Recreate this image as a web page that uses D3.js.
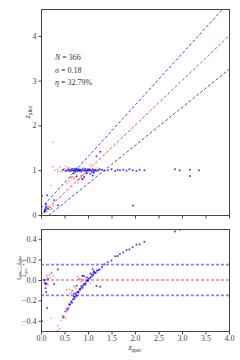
<!DOCTYPE html>
<html>
<head>
<meta charset="utf-8">
<script src="https://cdn.jsdelivr.net/npm/d3@7"></script>
<style>
  html, body { margin: 0; padding: 0; background: #fff; }
  svg { display: block; font-family: "Liberation Serif", "DejaVu Serif", serif; }
</style>
</head>
<body>
<div id="chart"></div>
<script>
// blue points: spectroscopic vs photometric redshift
const blueSpec = [0.02, 0.13, 0.08, 0.09, 0.10, 0.11, 0.08, 0.12, 0.07, 0.15, 0.36, 0.28,
  0.47, 0.52, 0.55, 0.58, 0.60, 0.62, 0.64, 0.66, 0.68, 0.70, 0.71, 0.72, 0.74, 0.75, 0.76, 0.78,
  0.79, 0.80, 0.82, 0.83, 0.85, 0.86, 0.88, 0.90, 0.92, 0.94, 0.95, 0.97, 0.99, 1.00, 1.02, 1.04,
  1.06, 1.08, 1.10, 1.12, 1.14, 1.16, 1.19, 1.22, 1.25, 1.30, 1.35, 1.42, 1.50, 1.58, 1.63, 1.68,
  1.75, 1.82, 1.88, 1.95, 2.03, 2.10, 2.20, 2.85, 2.95, 3.17, 3.36, 3.17, 1.96,
  1.18, 1.26, 1.05, 1.10, 0.92, 0.88, 0.98, 1.12, 0.70, 0.76];
const bluePhot = [0.43, 0.44, 0.08, 0.13, 0.19, 0.24, 0.11, 0.16, 0.07, 0.14, 0.22, 0.33,
  1.01, 0.99, 1.00, 1.02, 0.98, 1.01, 0.99, 1.03, 1.00, 0.98, 1.02, 1.00, 0.97, 1.01, 1.03, 0.99,
  1.00, 1.02, 0.98, 1.01, 1.00, 0.97, 1.02, 1.00, 0.99, 1.03, 1.01, 0.98, 1.00, 1.02, 0.99, 1.01,
  1.00, 0.97, 1.02, 1.00, 0.98, 1.01, 0.99, 1.00, 1.02, 1.01, 0.99, 1.00, 1.02, 0.98, 1.01, 1.00,
  1.01, 0.99, 1.02, 1.00, 0.98, 1.01, 1.00, 1.02, 1.00, 1.01, 1.00, 0.87, 0.21,
  1.31, 1.41, 0.92, 0.88, 0.85, 0.80, 0.93, 0.95, 0.93, 0.86];

// red points
const redSpec = [0.30, 0.35, 0.42, 0.48, 0.50, 0.55, 0.60, 0.65, 0.70, 0.75, 0.80,
  0.25, 0.40, 0.52, 0.58,
  0.65, 0.70, 0.75, 0.80, 0.85, 0.90, 0.95, 0.78, 0.60, 0.55, 0.68, 0.72,
  0.85, 0.90, 0.95, 1.00, 0.88, 0.82,
  0.26, 0.10, 0.13, 0.15, 0.18, 0.20, 0.12, 0.23, 0.26, 0.21, 0.36, 0.45, 0.22,
  1.10, 1.05, 1.20, 0.90, 1.15, 1.30, 1.13, 0.62, 0.66, 0.74];
const redPhot = [1.00, 1.02, 0.98, 1.00, 1.04, 0.97, 1.01, 0.99, 1.03, 0.96, 1.00,
  1.08, 1.07, 1.09, 1.06,
  0.85, 0.80, 0.90, 0.78, 0.88, 0.82, 0.92, 0.72, 0.75, 0.70, 0.86, 0.84,
  0.84, 0.90, 0.97, 1.00, 0.81, 0.80,
  1.63, 0.15, 0.10, 0.20, 0.12, 0.17, 0.07, 0.15, 0.21, 0.66, 0.97, 0.96, 0.13,
  0.95, 1.12, 1.05, 1.05, 1.00, 1.00, 0.94, 0.84, 0.83, 1.04];

const topTicks = [0, 1, 2, 3, 4];
const botTicks = [-0.4, -0.2, 0.0, 0.2, 0.4];
const xTicks = [0, 0.5, 1, 1.5, 2, 2.5, 3, 3.5, 4];
const stats = ["N = 366", "σ = 0.18", "η = 32.79%"];
const outlierCut = 0.15;

const width = 240, height = 360;
const serif = '"Liberation Serif", "DejaVu Serif", serif';
const svg = d3.select('#chart').append('svg')
  .attr('width', width).attr('height', height);

const x = d3.scaleLinear().domain([0, 4]).range([41, 229]);
const yTop = d3.scaleLinear().domain([0, 4.6]).range([215, 9]);
const yBot = d3.scaleLinear().domain([-0.5, 0.5]).range([331, 229]);

const defs = svg.append('defs');
defs.append('clipPath').attr('id', 'clipTop').append('rect')
  .attr('x', 41).attr('y', 9).attr('width', 188).attr('height', 206);
defs.append('clipPath').attr('id', 'clipBot').append('rect')
  .attr('x', 41).attr('y', 229).attr('width', 188).attr('height', 102);

const blue = blueSpec.map((s, i) => ({ s, p: bluePhot[i] }));
const red = redSpec.map((s, i) => ({ s, p: redPhot[i] }));
const delta = d => (d.s - d.p) / (d.s + 1);

// ---- top panel ----
const topPanel = svg.append('g').attr('clip-path', 'url(#clipTop)');
const lineTop = (f, color) => topPanel.append('path')
  .datum(d3.range(0, 4.01, 0.5))
  .attr('fill', 'none').attr('stroke', color).attr('stroke-width', 0.9)
  .attr('stroke-dasharray', '3,2')
  .attr('d', d3.line().x(d => x(d)).y(d => yTop(f(d))));
lineTop(d => d, '#ff3030');
lineTop(d => d + outlierCut * (1 + d), '#3030ff');
lineTop(d => d - outlierCut * (1 + d), '#3030ff');

topPanel.selectAll('circle.r').data(red).join('circle')
  .attr('cx', d => x(d.s)).attr('cy', d => yTop(d.p)).attr('r', 0.8)
  .attr('fill', '#ff1010').attr('opacity', 0.55);
topPanel.selectAll('circle.b').data(blue).join('circle')
  .attr('cx', d => x(d.s)).attr('cy', d => yTop(d.p)).attr('r', 1)
  .attr('fill', '#1010ff').attr('opacity', 0.8);

// ---- bottom panel ----
const botPanel = svg.append('g').attr('clip-path', 'url(#clipBot)');
const hline = (v, color, w, op) => botPanel.append('path')
  .datum([0, 4])
  .attr('fill', 'none').attr('stroke', color).attr('stroke-width', w).attr('opacity', op)
  .attr('stroke-dasharray', '3,2')
  .attr('d', d3.line().x(d => x(d)).y(() => yBot(v)));
hline(outlierCut, '#3030ff', 1.8, 0.6);
hline(-outlierCut, '#3030ff', 1.8, 0.6);
hline(0, '#ff2020', 1, 0.85);

botPanel.selectAll('circle.r').data(red).join('circle')
  .attr('cx', d => x(d.s)).attr('cy', d => yBot(delta(d))).attr('r', 0.8)
  .attr('fill', '#ff1010').attr('opacity', 0.55);
botPanel.selectAll('circle.b').data(blue).join('circle')
  .attr('cx', d => x(d.s)).attr('cy', d => yBot(delta(d))).attr('r', 1)
  .attr('fill', '#1010ff').attr('opacity', 0.8);

// ---- axes ----
const frame = (y0, y1) => svg.append('rect')
  .attr('x', 41.5).attr('y', y0 + 0.5).attr('width', 188).attr('height', y1 - y0)
  .attr('fill', 'none').attr('stroke', '#444').attr('stroke-width', 1);
frame(9, 215);
frame(229, 331);

const styleAxis = g => {
  g.attr('font-family', serif).attr('font-size', 8);
  g.select('.domain').remove();
  g.selectAll('.tick line').attr('stroke', '#444');
  g.selectAll('.tick text').attr('fill', '#444');
};

svg.append('g').attr('transform', 'translate(41.5,0)')
  .call(d3.axisLeft(yTop).tickValues(topTicks).tickFormat(d3.format('d')).tickSize(3).tickPadding(2))
  .call(styleAxis);
svg.append('g').attr('transform', 'translate(0,215.5)')
  .call(d3.axisBottom(x).tickValues(xTicks).tickFormat('').tickSize(3))
  .call(styleAxis);
svg.append('g').attr('transform', 'translate(41.5,0)')
  .call(d3.axisLeft(yBot).tickValues(botTicks)
    .tickFormat(d => (d < 0 ? '\u2212' : '') + d3.format('.1f')(Math.abs(d))).tickSize(3).tickPadding(2))
  .call(styleAxis);
svg.append('g').attr('transform', 'translate(0,331.5)')
  .call(d3.axisBottom(x).tickValues(xTicks).tickFormat(d3.format('.1f')).tickSize(3).tickPadding(1))
  .call(styleAxis);

// ---- stats text ----
svg.append('g').selectAll('text').data(stats).join('text')
  .attr('x', 55).attr('y', (d, i) => 60 + i * 12.5)
  .attr('font-size', 8).attr('fill', '#333')
  .each(function (d) {
    const [sym, rest] = [d.slice(0, 1), d.slice(1)];
    d3.select(this).append('tspan').attr('font-style', 'italic').text(sym);
    d3.select(this).append('tspan').text(rest);
  });

// ---- axis labels ----
const zLabel = (g, sub, size) => {
  g.append('tspan').attr('font-style', 'italic').text('z');
  g.append('tspan').attr('font-size', size * 0.7).attr('dy', size * 0.25).text(sub);
};
const yl = svg.append('text').attr('transform', 'translate(30,112) rotate(-90)')
  .attr('text-anchor', 'middle').attr('font-size', 8).attr('fill', '#333');
zLabel(yl, 'phot', 8);

const xl = svg.append('text').attr('x', 135).attr('y', 350)
  .attr('text-anchor', 'middle').attr('font-size', 8).attr('fill', '#333');
zLabel(xl, 'spec', 8);

const frac = svg.append('g').attr('transform', 'translate(21,268) rotate(-90)')
  .attr('fill', '#333');
const num = frac.append('text').attr('y', -1.5).attr('text-anchor', 'middle').attr('font-size', 5.5);
zLabel(num, 'spec', 5.5);
num.append('tspan').attr('dy', -5.5 * 0.25).text(' \u2212 ');
zLabel(num, 'phot', 5.5);
frac.append('line').attr('x1', -11).attr('x2', 11).attr('y1', 0).attr('y2', 0)
  .attr('stroke', '#333').attr('stroke-width', 0.4);
const den = frac.append('text').attr('y', 4.5).attr('text-anchor', 'middle').attr('font-size', 5.5);
zLabel(den, 'spec', 5.5);
den.append('tspan').attr('dy', -5.5 * 0.25).text(' + 1');
</script>
</body>
</html>
